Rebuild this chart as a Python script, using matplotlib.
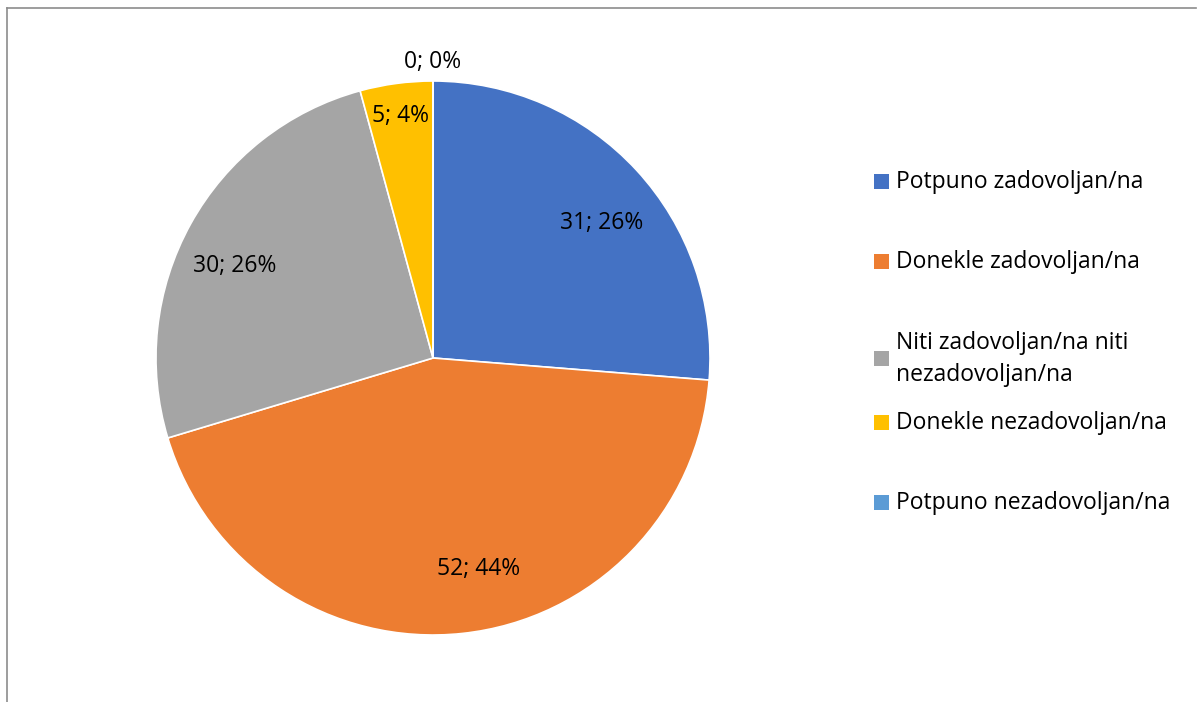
import numpy as np
import matplotlib.pyplot as plt
from matplotlib.lines import Line2D
from matplotlib.patches import Rectangle

categories = ['Potpuno zadovoljan/na', 'Donekle zadovoljan/na',
              'Niti zadovoljan/na niti\nnezadovoljan/na',
              'Donekle nezadovoljan/na', 'Potpuno nezadovoljan/na']
counts = [31, 52, 30, 5, 0]
percents = [26, 44, 26, 4, 0]
colors = ['#4472C4', '#ED7D31', '#A5A5A5', '#FFC000', '#5B9BD5']

W, H = 1197, 702
plt.rcParams['font.family'] = ['Open Sans', 'DejaVu Sans']
FS = 16.5

fig = plt.figure(figsize=(W / 100, H / 100), dpi=100)

# pie centre ~ (433, 358) px, radius ~277 px
cx, cy, r = 433, 358, 277
ax = fig.add_axes([(cx - r) / W, (H - cy - r) / H, 2 * r / W, 2 * r / H])
wedges, _ = ax.pie(counts, colors=colors, startangle=90, counterclock=False,
                   wedgeprops=dict(linewidth=1.2, edgecolor='white'))
ax.set_xlim(-1, 1)
ax.set_ylim(-1, 1)
ax.set_aspect('equal')

# data labels "n; p%"
dist = [0.78, 0.78, 0.79, 0.88, 1.07]
nudge = [-4, 6, 4, 0, 0]
for w, n, p, d, a in zip(wedges, counts, percents, dist, nudge):
    ang = np.deg2rad((w.theta1 + w.theta2) / 2 + a)
    ax.text(d * np.cos(ang), d * np.sin(ang), f'{n}; {p}%',
            ha='center', va='center', fontsize=FS, color='#000000')

# legend, drawn by hand to keep Excel's spacing
leg_y = [182, 262, 359, 423, 503]
for lab, col, y in zip(categories, colors, leg_y):
    fig.add_artist(Rectangle((874 / W, (H - y - 7) / H), 15 / W, 15 / H,
                             transform=fig.transFigure, facecolor=col,
                             edgecolor='none'))
    fig.text(896 / W, (H - y) / H, lab, ha='left', va='center',
             fontsize=FS, color='#000000', linespacing=1.45)

# chart area border (top and left visible)
fig.add_artist(Line2D([7 / W, 1196 / W], [(H - 8) / H, (H - 8) / H],
                      transform=fig.transFigure, color='#8c8c8c', lw=1.2))
fig.add_artist(Line2D([7 / W, 7 / W], [0, (H - 8) / H],
                      transform=fig.transFigure, color='#8c8c8c', lw=1.2))

fig.savefig('out.png', dpi=100)
